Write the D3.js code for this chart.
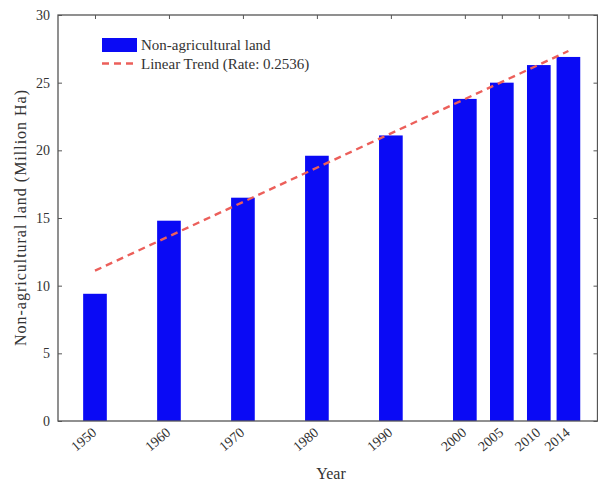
<!DOCTYPE html>
<html>
<head>
<meta charset="utf-8">
<script src="https://cdn.jsdelivr.net/npm/d3@7"></script>
<style>
  html, body { margin: 0; padding: 0; background: #fff; }
  svg { display: block; }
  text { font-family: "Liberation Serif", "DejaVu Serif", serif; fill: #333; }
</style>
</head>
<body>
<svg id="chart" width="598" height="482"></svg>
<script>
// Non-agricultural land area by year (million hectares)
const years = [1950, 1960, 1970, 1980, 1990, 2000, 2005, 2010, 2014];
const landArea = [9.4, 14.8, 16.5, 19.6, 21.1, 23.8, 25.0, 26.3, 26.9];
const trendRate = 0.2536;
const yTicks = [0, 5, 10, 15, 20, 25, 30];
const seriesLabel = "Non-agricultural land";
const trendLabel = "Linear Trend (Rate: 0.2536)";

const svg = d3.select("#chart");
const margin = { left: 58, right: 0, top: 15, bottom: 61 };
const W = 598, H = 482;
const plotW = W - margin.left - margin.right;
const plotH = H - margin.top - margin.bottom;

const x = d3.scaleLinear().domain([1945, 2018]).range([margin.left, margin.left + plotW]);
const y = d3.scaleLinear().domain([0, 30]).range([margin.top + plotH, margin.top]);

const barYears = 3.2;
const axisColor = "#555";
const barColor = "#0a0af5";
const trendColor = "#ec5f5a";

// Bars
svg.append("g").selectAll("rect")
  .data(years)
  .join("rect")
  .attr("x", (d) => x(d - barYears / 2))
  .attr("width", (d) => x(d + barYears / 2) - x(d - barYears / 2))
  .attr("y", (d, i) => y(landArea[i]))
  .attr("height", (d, i) => y(0) - y(landArea[i]))
  .attr("fill", barColor);

// Trend line through the mean point with the stated rate
const meanYear = d3.mean(years);
const meanArea = d3.mean(landArea);
const trend = (yr) => meanArea + trendRate * (yr - meanYear);
const trendPts = [years[0], years[years.length - 1]];
svg.append("path")
  .datum(trendPts)
  .attr("d", d3.line().x((d) => x(d)).y((d) => y(trend(d))))
  .attr("fill", "none")
  .attr("stroke", trendColor)
  .attr("stroke-width", 2.4)
  .attr("stroke-dasharray", "7,5");

// Frame and inward ticks
svg.append("rect")
  .attr("x", margin.left).attr("y", margin.top)
  .attr("width", plotW - 0.5).attr("height", plotH)
  .attr("fill", "none").attr("stroke", axisColor).attr("stroke-width", 1.3);

const tickFont = "'Liberation Serif', serif";

const leftAxis = d3.axisLeft(y).tickValues(yTicks).tickSize(-4).tickPadding(8).tickFormat(d3.format("d"));
const gl = svg.append("g").attr("transform", `translate(${margin.left},0)`).call(leftAxis);
gl.select(".domain").remove();
gl.selectAll("line").attr("stroke", axisColor);
gl.selectAll("text").style("font-size", "14px").attr("fill", "#555").style("font-family", tickFont);

const rightAxis = d3.axisRight(y).tickValues(yTicks).tickSize(-4).tickFormat("");
const gr = svg.append("g").attr("transform", `translate(${margin.left + plotW - 0.5},0)`).call(rightAxis);
gr.select(".domain").remove();
gr.selectAll("line").attr("stroke", axisColor);

const topAxis = d3.axisTop(x).tickValues(years).tickSize(-4).tickFormat("");
const gt = svg.append("g").attr("transform", `translate(0,${margin.top})`).call(topAxis);
gt.select(".domain").remove();
gt.selectAll("line").attr("stroke", axisColor);

const bottomAxis = d3.axisBottom(x).tickValues(years).tickSize(0).tickFormat(d3.format("d"));
const gb = svg.append("g").attr("transform", `translate(0,${margin.top + plotH})`).call(bottomAxis);
gb.select(".domain").remove();
gb.selectAll("text")
  .style("font-size", "14px").attr("fill", "#555")
  .style("font-family", tickFont)
  .attr("text-anchor", "end")
  .attr("dy", 0).attr("y", 0)
  .attr("transform", "translate(2,13) rotate(-40)");

// Axis titles
svg.append("text")
  .attr("x", 331).attr("y", 479)
  .attr("text-anchor", "middle")
  .style("font-size", "16px")
  .attr("fill", "#444")
  .text("Year");

svg.append("text")
  .attr("transform", `translate(26,${(y(15) + 218) / 2}) rotate(-90)`)
  .attr("text-anchor", "middle")
  .style("font-size", "16px")
  .attr("textLength", 256)
  .attr("fill", "#444")
  .text("Non-agricultural land (Million Ha)");

// Legend
const lg = svg.append("g").attr("transform", "translate(102,38)");
lg.append("rect").attr("x", 0).attr("y", 0).attr("width", 35).attr("height", 14).attr("fill", barColor);
lg.append("text").attr("x", 39).attr("y", 12).style("font-size", "15px").text(seriesLabel);
lg.append("line").attr("x1", 0).attr("x2", 35).attr("y1", 25.5).attr("y2", 25.5)
  .attr("stroke", trendColor).attr("stroke-width", 2.4).attr("stroke-dasharray", "7,5");
lg.append("text").attr("x", 39).attr("y", 31).style("font-size", "15px").text(trendLabel);
</script>
</body>
</html>
